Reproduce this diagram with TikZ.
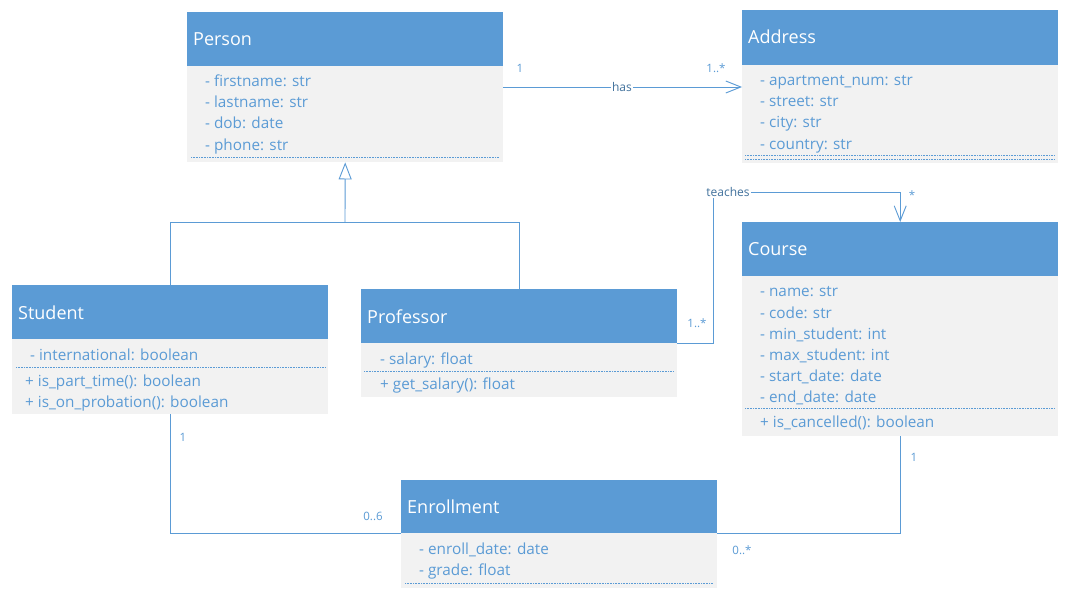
\documentclass[tikz,border=0pt]{standalone}
\usepackage{fontspec}
\setmainfont{Open Sans}
\usetikzlibrary{arrows.meta,calc}
\definecolor{hdr}{HTML}{5B9BD5}
\definecolor{bodyc}{HTML}{F2F2F2}
\definecolor{txt}{HTML}{5B9BD5}
\definecolor{lbl}{HTML}{41719C}
\definecolor{ln}{HTML}{5B9BD5}
\begin{document}
\begin{tikzpicture}[x=1pt,y=-1pt,
 hdrbox/.style={fill=hdr, draw=none, anchor=north west, inner sep=0, minimum width=316pt},
 bodybox/.style={fill=bodyc, draw=none, anchor=north west, inner sep=0, minimum width=316pt},
 ttl/.style={anchor=west, inner sep=0, yshift=-2.5pt, text=white, text height=13pt, text depth=4pt, font=\fontsize{18}{20}\selectfont},
 attr/.style={anchor=west, inner sep=0, yshift=-2.5pt, text=txt, text height=11pt, text depth=4pt, font=\fontsize{15.3}{17}\selectfont},
 mult/.style={inner sep=0, text=txt, font=\fontsize{11.5}{13}\selectfont},
 rolelbl/.style={inner sep=1pt, fill=white, text=lbl, font=\fontsize{12}{14}\selectfont},
 sepline/.style={draw=ln, dash pattern=on 0.8pt off 0.8pt, line width=0.6pt},
 conn/.style={draw=ln, line width=0.9pt},
 navarrow/.style={-{Straight Barb[length=15pt,width=12pt,line width=0.9pt]}},
 genarrow/.style={-{Triangle[length=17pt,width=13pt,fill=white,line width=0.9pt]}}
]
\fill[white] (0,0) rectangle (1075,597);
\useasboundingbox (0,0) rectangle (1075,597);

% Person
\node[hdrbox, minimum height=54pt] (personh) at (187,12) {};
\node[bodybox, minimum height=96pt] (personb) at (187,66) {};
\node[ttl] (persont) at (193,38) {Person};
\node[attr] (pa1) at (205,80) {- firstname: str};
\node[attr] (pa2) at (205,101) {- lastname: str};
\node[attr] (pa3) at (205,122) {- dob: date};
\node[attr] (pa4) at (205,144) {- phone: str};
\draw[sepline] (191,157) -- (499,157);

% Address
\node[hdrbox, minimum height=55pt] (addrh) at (742,10) {};
\node[bodybox, minimum height=98pt] (addrb) at (742,65) {};
\node[ttl] (addrt) at (748,36) {Address};
\node[attr] (aa1) at (760,79) {- apartment\_num: str};
\node[attr] (aa2) at (760,100) {- street: str};
\node[attr] (aa3) at (760,121) {- city: str};
\node[attr] (aa4) at (760,143) {- country: str};
\draw[sepline] (745,155) -- (1055,155);
\draw[sepline] (745,159) -- (1055,159);

% Student
\node[hdrbox, minimum height=54pt] (studenth) at (12,285) {};
\node[bodybox, minimum height=75pt] (studentb) at (12,339) {};
\node[ttl] (studentt) at (18,312) {Student};
\node[attr] (sa1) at (30,354) {- international: boolean};
\draw[sepline] (16,367) -- (325,367);
\node[attr] (sm1) at (25,380) {+ is\_part\_time(): boolean};
\node[attr] (sm2) at (25,401) {+ is\_on\_probation(): boolean};

% Professor
\node[hdrbox, minimum height=54pt] (profh) at (361,289) {};
\node[bodybox, minimum height=54pt] (profb) at (361,343) {};
\node[ttl] (proft) at (367,316) {Professor};
\node[attr] (ra1) at (380,358) {- salary: float};
\draw[sepline] (364,371) -- (674,371);
\node[attr] (rm1) at (380,383) {+ get\_salary(): float};

% Course
\node[hdrbox, minimum height=54pt] (courseh) at (742,222) {};
\node[bodybox, minimum height=160pt] (courseb) at (742,276) {};
\node[ttl] (courset) at (748,248) {Course};
\node[attr] (ca1) at (760,290) {- name: str};
\node[attr] (ca2) at (760,312) {- code: str};
\node[attr] (ca3) at (760,333) {- min\_student: int};
\node[attr] (ca4) at (760,354) {- max\_student: int};
\node[attr] (ca5) at (760,375) {- start\_date: date};
\node[attr] (ca6) at (760,396) {- end\_date: date};
\draw[sepline] (745,408) -- (1055,408);
\node[attr] (cm1) at (760,421) {+ is\_cancelled(): boolean};

% Enrollment
\node[hdrbox, minimum height=53pt] (enrollh) at (401,480) {};
\node[bodybox, minimum height=55pt] (enrollb) at (401,533) {};
\node[ttl] (enrollt) at (407,506) {Enrollment};
\node[attr] (ea1) at (419,548) {- enroll\_date: date};
\node[attr] (ea2) at (419,569) {- grade: float};
\draw[sepline] (405,583) -- (713,583);

% has
\draw[conn,navarrow] ([yshift=-21pt]personb.north east) coordinate (hasstart) -- (hasstart -| addrb.west);
\node[rolelbl] (haslbl) at (622,87) {has};
\node[mult] (m1) at (520,68) {1};
\node[mult] (m2) at (716,68) {1..*};

% generalization
\coordinate (gj) at (345,222);
\draw[conn] (studenth.north) |- (gj);
\draw[conn] (profh.north) |- (gj);
\draw[conn,genarrow] (gj) -- (personb.south);

% teaches
\coordinate (tc) at (713,192);
\draw[conn,navarrow] (profh.south east) -| (tc) -- (tc -| courseh.north) -- (courseh.north);
\node[rolelbl] (teachlbl) at (728,192) {teaches};
\node[mult] (m3) at (912,195) {*};
\node[mult] (m4) at (697,323) {1..*};

% enrollment links
\draw[conn] (studentb.south) |- (enrollh.south west);
\draw[conn] (courseb.south) |- (enrollh.south east);
\node[mult] (m5) at (183,437) {1};
\node[mult] (m6) at (373,516) {0..6};
\node[mult] (m7) at (914,457) {1};
\node[mult] (m8) at (742,550) {0..*};
\end{tikzpicture}
\end{document}
